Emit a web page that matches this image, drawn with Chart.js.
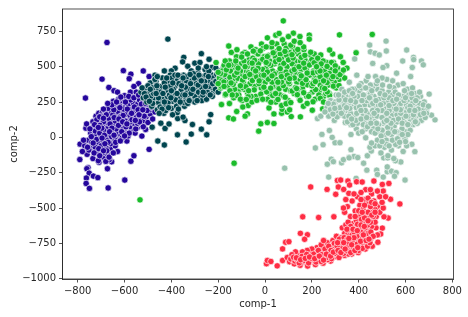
<!DOCTYPE html>
<html>
<head>
<meta charset="utf-8">
<style>html,body{margin:0;padding:0;background:#fff}canvas{display:block}</style>
<script src="https://cdn.jsdelivr.net/npm/chart.js@4/dist/chart.umd.min.js"></script>
</head>
<body>
<canvas id="c" width="468" height="317"></canvas>
<script>
const xTicks = [-800,-600,-400,-200,0,200,400,600,800];
const yTicks = [-1000,-750,-500,-250,0,250,500,750];

// values, [comp-1, comp-2]
const purplePts = [
[-675,671],[-605,472],[-573,447],[-580,415],[-696,412],[-520,470],[-495,430],[-667,353],[-767,278],[-645,330],[-630,320],[-540,380],[-560,360],
[-791,-157],[-756,-215],[-761,-222],[-673,-222],[-751,-253],[-733,-274],[-714,-285],[-763,-288],[-764,-326],[-750,-361],[-670,-358],[-599,-302],[-573,-169],[-709,-176],[-655,-173],[-665,-158],[-560,-130],[-495,-85],[-510,56],[-526,9],[-590,-26],[-630,-100],[-790,-48],
[-770,-60],[-755,-20],[-745,-75],[-760,-120],[-735,-150],[-720,-110],[-745,30],[-765,65],[-762,95],[-735,70],[-728,20],[-712,-40],[-700,-90],[-690,-140],[-680,-170],[-672,-120],[-660,-80],[-652,-30],[-640,-60],[-625,-10],
[-735,110],[-722,150],[-715,95],[-708,55],[-700,5],[-692,-25],[-682,35],[-675,-15],[-665,20],[-650,45],[-632,30],[-615,15],[-600,40],[-585,10],[-570,50],[-555,30],[-545,70],[-530,95],
[-710,170],[-700,120],[-695,175],[-688,80],[-680,140],[-672,100],[-665,65],[-660,170],[-652,125],[-645,85],[-640,205],[-635,150],[-628,110],[-622,70],[-615,180],[-610,130],[-605,90],[-598,215],[-592,165],[-585,120],[-578,75],[-572,195],[-566,145],[-560,100],[-552,60],[-548,170],[-540,130],[-534,210],[-525,165],[-518,120],[-508,145],[-500,105],[-490,165],[-480,130],
[-700,150],[-690,110],[-682,185],[-675,60],[-668,135],[-658,215],[-650,160],[-642,240],[-636,60],[-630,185],[-622,235],[-618,145],[-610,260],[-604,200],[-596,115],[-590,275],[-584,235],[-576,155],[-570,290],[-563,245],[-556,190],[-550,290],[-544,235],[-536,265],[-530,180],[-522,250],[-515,205],[-508,280],[-500,230],[-492,195],[-486,260],
[-725,45],[-690,50],[-655,5],[-640,115],[-605,60],[-575,110],[-545,100],[-520,75],[-705,85],[-670,205],[-648,255],[-625,270],[-600,295],[-575,320],[-550,320],[-530,310],[-510,320],[-660,-45],[-680,-70],[-700,-60],[-720,-15],[-740,-35],[-725,-70],[-712,-165],[-640,-20],[-610,-5],
[-718,125],[-706,30],[-697,65],[-686,15],[-678,160],[-670,-35],[-662,95],[-654,65],[-646,195],[-638,-35],[-626,85],[-620,210],[-612,40],[-606,155],[-594,75],[-588,200],[-580,30],[-574,265],[-568,125],[-558,215],[-550,140],[-542,195],[-536,110],[-528,235],[-516,150],[-504,190],[-498,265],[-694,-110],[-684,-45],[-676,-95],[-666,-140],[-648,-110],[-734,-40],[-752,-90],[-748,60],[-730,-110],[-710,-80],[-696,-5],[-654,230],[-634,250],[-616,285],[-596,250],[-582,290],[-560,280],[-540,300],[-480,210],[-470,180],[-690,200],[-672,240],[-706,145],
[-742,5],[-728,90],[-712,70],[-690,135],[-664,40],[-644,140],[-624,130],[-608,110],[-590,95],[-570,170],[-554,120],[-538,160],[-522,195],[-510,240],[-645,15],[-618,-25],[-600,10],[-690,-95],[-706,-130],[-758,-70],[-775,-20],[-780,-100]
];
const tealPts = [
[-415,695],[-272,592],[-347,566],[-239,552],[-352,534],[-330,503],[-300,525],[-278,530],[-384,489],[-458,-26],[-430,-54],[-337,-33],[-374,18],[-315,23],[-249,18],[-272,58],[-310,91],[-342,119],[-373,133],[-350,143],[-239,110],[-232,161],[-427,63],[-482,72],[-445,100],[-410,95],[-400,470],[-430,470],[-470,440],
[-530,320],[-520,280],[-512,350],[-505,250],[-498,310],[-490,385],[-484,220],[-478,275],[-472,340],[-466,395],[-460,195],[-455,245],[-450,300],[-444,360],[-438,420],[-432,170],[-428,225],[-422,280],[-416,330],[-410,390],[-405,440],[-400,205],[-396,255],[-390,305],[-385,360],[-380,410],[-375,175],[-370,235],[-364,285],[-358,335],[-354,390],[-348,440],[-344,220],[-338,270],[-332,320],[-326,370],[-320,425],[-315,470],[-310,260],[-305,305],[-298,350],[-292,405],[-286,455],[-280,280],[-275,330],[-268,375],[-262,430],[-256,480],[-250,300],[-244,345],[-238,395],[-232,445],[-226,495],[-220,320],[-214,370],[-208,415],[-202,465],[-196,345],[-190,395],[-184,440],[-178,490],
[-515,310],[-500,365],[-488,290],[-480,240],[-470,410],[-458,330],[-448,215],[-440,270],[-430,385],[-424,190],[-414,245],[-408,300],[-398,420],[-392,340],[-382,265],[-378,220],[-368,380],[-360,430],[-352,300],[-346,245],[-336,400],[-328,290],[-322,345],[-312,400],[-306,450],[-300,290],[-294,380],[-284,320],[-278,410],[-270,350],[-258,395],[-252,440],[-246,320],[-240,470],[-228,355],[-222,420],[-212,340],[-206,445],[-198,400],[-192,470],[-455,280],[-440,200],[-420,420],[-395,160],[-370,200],[-330,240],[-300,250],[-270,260],[-250,270],[-225,290],[-480,350],[-460,430],[-445,320],[-405,360],[-385,440],[-340,355],[-316,310],[-286,370],[-266,300],[-240,360],[-216,395],
[-525,350],[-508,285],[-494,255],[-476,310],[-462,365],[-452,170],[-436,310],[-426,355],[-412,210],[-402,280],[-394,385],[-376,310],[-372,440],[-362,250],[-356,365],[-342,300],[-334,430],[-324,260],[-318,380],[-308,340],[-302,420],[-290,260],[-282,440],[-272,400],[-264,320],[-254,360],[-242,430],[-234,300],[-224,380],[-210,395],[-200,320],[-194,440],[-182,370],[-176,420],[-168,460],[-160,390],[-210,490],[-250,500],[-285,490],[-320,445],[-350,420],[-400,330],[-430,250],[-465,310],[-490,340]
];
const greenPts = [
[78,824],[318,725],[458,728],[389,598],[289,590],[276,618],[238,583],[-27,44],[-18,96],[10,105],[38,98],[151,145],[112,147],[-121,183],[-132,-183],[-534,-442],[-155,646],[-144,601],[-209,529],[-186,232],[-152,239],[-155,138],[-135,130],[46,723],[60,735],[10,704],[121,737],[100,713],[149,713],[189,723],[189,695],[164,220],[202,192],[246,201],[71,171],[73,198],[71,225],[38,166],[-75,166],[-85,150],[-72,225],[-95,215],[17,208],[95,180],[105,195],[-60,640],[-40,620],[-15,660],
[-195,420],[-190,350],[-182,470],[-175,510],[-170,300],[-165,390],[-158,440],[-152,540],[-146,330],[-140,490],[-134,280],[-128,400],[-122,570],[-116,450],[-110,340],[-104,520],[-98,260],[-92,390],[-86,600],[-80,470],[-74,310],[-68,550],[-62,420],[-56,250],[-50,500],[-44,360],[-38,600],[-32,450],[-26,290],[-20,540],[-14,400],[-8,630],[-2,330],[4,490],[10,270],[16,580],[22,430],[28,640],[34,360],[40,520],[46,250],[52,610],[58,460],[64,300],[70,560],[76,400],[82,660],[88,340],[94,500],[100,260],[106,600],[112,440],[118,640],[124,310],[130,540],[136,390],[142,590],[148,270],[154,480],[160,350],[166,620],[172,430],[178,290],[184,530],[190,380],[196,580],[202,320],[208,470],[214,270],[220,540],[226,400],[232,330],[238,500],[244,440],[250,290],[256,370],[262,530],[268,420],[274,310],[280,480],[286,380],[292,530],[298,440],[304,350],[310,490],[316,410],[322,570],[328,460],[334,530],[340,420],[350,490],
[-185,400],[-172,445],[-160,360],[-148,470],[-136,410],[-124,510],[-112,300],[-100,440],[-88,340],[-76,500],[-64,380],[-52,560],[-40,290],[-28,520],[-16,350],[-4,570],[8,420],[20,310],[32,470],[44,570],[56,350],[68,510],[80,290],[92,580],[104,380],[116,520],[128,460],[140,340],[152,540],[164,390],[176,480],[188,300],[200,550],[212,420],[224,480],[236,370],[248,540],[260,310],[272,450],[284,530],[296,390],[308,430],[-130,340],[-90,540],[-50,440],[-10,480],[30,390],[70,450],[110,330],[150,410],[190,440],[230,300],[270,370],[-170,540],[-60,290],[20,540],[90,420],[130,610],[170,550],[210,590],[-30,590],[50,660],[90,630],[-120,620],[-95,590],
[-168,305],[-122,298],[-72,288],[-18,306],[33,296],[86,284],[138,302],[186,290],[236,276],[276,296],[-150,330],[-96,352],[-46,336],[7,322],[60,344],[116,328],[165,316],[216,338],[266,322],[-188,362],[-136,375],[-82,358],[-26,380],[24,348],[78,366],[130,352],[181,372],[245,350],[292,362],[-176,392],[-116,418],[-54,402],[1,388],[50,408],[101,392],[160,382],[211,404],[265,388],[316,366],[-150,424],[-96,405],[-36,428],[14,412],[70,392],[125,420],[175,408],[235,430],[285,416],[-190,452],[-130,440],[-70,456],[-15,438],[40,448],[90,462],[150,444],[205,456],[255,470],[320,444],[-165,478],[-105,470],[-50,482],[10,462],[65,486],[115,470],[170,492],[225,464],[275,452],[335,476],[-145,512],[-85,500],[-30,488],[25,510],[80,524],[135,498],[190,512],[240,520],[300,506],[-125,540],[-65,528],[-10,552],[45,536],[100,548],[155,566],[210,528],[265,502],
[-100,568],[-45,545],[10,572],[65,590],[120,562],[170,580],[225,560],[-75,590],[-20,612],[35,598],[85,608],[140,622],[195,602],[-50,610],[5,640],[60,628],[110,652],[165,640],[30,670],[75,690],[125,680],[150,670],[-105,270],[-35,262],[25,248],[90,238],[150,262],[205,252],[250,250],[-140,300],[-80,268],[-10,270],[55,268],[110,246],[180,240],[280,260],[310,300],[-200,460],[-200,380],[-175,360],[-70,330],[-5,355],[45,310],[135,345],[200,365],[250,400],[300,470],[-120,460],[-40,470],[15,520],[70,430],[125,480],[180,455],[235,470],[290,430],[-85,430],[-25,400],[30,435],[95,440],[145,500],[205,380],[255,345],[-145,385],[-105,365],[-65,445],[-5,440],[55,390],[105,415],[155,435],[215,395],[262,440],[-55,525],[5,530],[60,550],[115,585],[165,525],[220,500],[-115,490],[-155,510]
];
const sagePts = [
[447,653],[517,681],[518,611],[605,618],[450,605],[470,595],[488,583],[634,566],[668,540],[676,513],[588,540],[635,550],[383,555],[460,523],[520,507],[504,494],[629,494],[622,430],[562,454],[726,124],[711,157],[701,306],[690,200],[215,-75],[248,-52],[299,-38],[320,-38],[287,0],[243,21],[275,49],[343,105],[367,90],[390,60],[367,20],[367,-87],[283,-155],[359,-140],[380,-135],[396,-143],[437,-130],[454,-96],[448,-70],[640,-101],[627,-49],[430,-3],[84,-218],[266,-190],[292,-172],[327,-180],[335,-158],[359,-145],[272,-281],[389,-290],[435,-232],[421,-183],[477,-232],[480,-262],[505,-281],[522,-243],[540,-239],[560,-250],[553,-275],[522,-209],[598,-302],[580,-174],[557,-165],[507,-145],[524,-145],[224,133],[238,150],
[265,210],[272,150],[280,260],[288,185],[296,120],[304,300],[312,215],[320,160],[328,340],[336,250],[344,190],[352,110],[360,390],[368,290],[376,220],[384,150],[392,440],[400,330],[408,260],[416,190],[424,110],[432,400],[440,300],[448,230],[456,150],[464,60],[472,430],[480,340],[488,270],[496,190],[504,100],[512,20],[520,410],[528,320],[536,240],[544,160],[552,80],[560,-20],[568,370],[576,280],[584,200],[592,120],[600,40],[608,340],[616,260],[624,170],[632,90],[640,310],[648,220],[656,140],[664,290],[672,190],[680,250],[690,170],[570,-60],[540,-90],[510,-70],[480,-20],[455,40],[430,60],
[300,250],[325,220],[345,290],[365,170],[385,340],[395,100],[410,380],[425,230],[445,130],[460,360],[470,210],[485,90],[500,330],[515,150],[525,250],[535,60],[550,350],[555,190],[565,110],[575,10],[590,290],[605,180],[615,80],[630,240],[645,150],[660,240],[340,150],[355,230],[375,90],[390,210],[405,320],[420,160],[435,260],[450,370],[465,290],[478,150],[490,40],[505,240],[518,-20],[532,130],[545,300],[558,-50],[572,220],[585,60],[598,-10],[612,300],[620,130],[636,200],[650,280],[668,120],[400,30],[470,-60],[495,-110],[525,-130],[550,-150],[590,-100],[605,-60],[440,430],[500,420],[545,400],[590,380],[630,350],[330,290],[310,180],[285,220],
[278,195],[292,235],[308,145],[316,265],[332,190],[340,320],[350,255],[358,150],[372,340],[380,255],[388,120],[396,290],[404,215],[412,350],[420,90],[428,290],[436,170],[444,340],[452,270],[460,190],[468,110],[476,380],[484,230],[492,310],[500,140],[508,280],[516,200],[524,70],[532,360],[540,210],[548,120],[556,320],[564,160],[572,30],[580,240],[588,130],[596,330],[604,230],[612,150],[620,50],[628,280],[636,130],[644,260],[652,180],[660,320],[676,230],[684,140],[698,220],[500,50],[540,20],[470,30],[440,90],[415,40],[520,-50],[560,40],[600,-30],[490,-60],[380,290],[430,350],[480,400],[530,280],[570,300],[610,210],[360,330],[320,210],[450,310],[500,190],[550,240],[600,100],[410,130],[460,240],[510,110],[420,300],[370,130],[340,225],[290,165],[256,180],[480,190],[530,190],[580,170],[620,220],[650,100],
[270,240],[298,205],[314,300],[326,170],[344,265],[362,205],[374,310],[392,170],[402,365],[414,260],[428,190],[438,75],[446,280],[456,330],[466,170],[474,260],[482,60],[494,230],[502,370],[512,300],[520,170],[530,225],[538,100],[546,260],[554,40],[562,270],[570,130],[578,195],[586,100],[594,260],[602,150],[610,20],[618,190],[626,310],[634,160],[642,110],[654,200],[664,160],[678,170],[496,10],[526,30],[544,-20],[566,-10],[586,20],[610,90],[476,100],[452,100],[434,140],[410,190],[386,250],[366,260],[348,210],[520,120],[560,200],[600,280],[640,190],[500,-30],[530,-60],[575,-35],[455,-40]
];
const redPts = [
[6,-894],[10,-871],[25,-878],[52,-909],[75,-871],[75,-789],[88,-742],[102,-738],[151,-679],[181,-689],[169,-721],[161,-562],[229,-567],[294,-562],[195,-351],[265,-368],[302,-403],[309,-305],[323,-302],[313,-351],[336,-368],[354,-309],[361,-337],[358,-396],[391,-314],[415,-316],[465,-309],[501,-333],[529,-326],[576,-471],[536,-438],[526,-571],[508,-562],[501,-642],[494,-684],[482,-742],
[95,-850],[105,-880],[118,-865],[125,-895],[132,-840],[142,-875],[150,-905],[155,-820],[165,-855],[175,-885],[182,-910],[188,-800],[195,-840],[205,-870],[215,-900],[222,-780],[230,-825],[238,-860],[248,-890],[255,-755],[262,-800],[270,-840],[280,-875],[290,-770],[298,-815],[306,-845],[315,-740],[322,-785],[330,-830],[340,-835],[345,-700],[352,-755],[360,-800],[370,-825],[376,-670],[382,-725],[390,-770],[398,-815],[405,-640],[412,-695],[420,-745],[428,-790],[436,-610],[442,-665],[450,-720],[458,-770],[466,-590],[474,-640],[480,-690],
[110,-860],[128,-875],[140,-850],[148,-830],[160,-880],[170,-840],[180,-860],[192,-875],[200,-820],[210,-845],[220,-865],[235,-800],[245,-850],[258,-830],[268,-865],[278,-780],[288,-830],[300,-795],[310,-830],[320,-760],[332,-805],[345,-775],[356,-825],[368,-720],[378,-780],[388,-740],[400,-800],[410,-760],[422,-710],[435,-750],[445,-690],[330,-640],[345,-620],[360,-650],[375,-610],[390,-590],[405,-560],[420,-600],[430,-540],[445,-570],[460,-530],[475,-560],[340,-680],[355,-600],[385,-640],[400,-680],[415,-640],[435,-680],[455,-630],[470,-600],
[340,-530],[352,-490],[365,-560],[372,-450],[385,-520],[395,-420],[405,-480],[418,-510],[428,-440],[440,-470],[455,-400],[465,-450],[480,-490],[490,-420],[505,-380],[515,-420],[490,-530],[470,-510],[450,-490],[430,-370],[410,-390],[380,-400],[345,-440],[335,-500],[505,-500],[440,-530],[480,-380],[450,-370],[500,-460],
[240,-760],[265,-745],[290,-730],[305,-700],[325,-710],[355,-680],[250,-730],[215,-810],[200,-790],[180,-800],[160,-810],[130,-810],[115,-830],
[122,-848],[136,-862],[146,-888],[158,-842],[168,-870],[178,-828],[186,-888],[198,-856],[208,-826],[218,-882],[226,-846],[240,-878],[252,-820],[264,-850],[274,-810],[284,-858],[294,-790],[304,-822],[316,-850],[326,-775],[336,-820],[348,-800],[358,-760],[366,-815],[374,-745],[384,-800],[394,-755],[404,-720],[416,-785],[426,-725],[438,-770],[448,-745],[228,-800],[242,-830],[256,-790],[272,-770],[282,-800],[296,-750],[308,-770],[318,-720],[328,-745],[338,-710],[350,-725],[362,-695],[372,-690],[392,-700],[402,-650],[418,-670],[428,-640],[452,-670],[462,-700],[366,-630],[350,-650],[380,-670],[395,-615],[412,-580],[425,-570],[438,-620],[450,-600],[462,-560],[440,-430],[455,-460],[470,-470],[425,-480],[410,-440],
[134,-852],[152,-866],[172,-856],[190,-846],[212,-858],[232,-840],[250,-868],[262,-826],[280,-840],[292,-812],[312,-800],[324,-815],[342,-790],[354,-740],[370,-760],[380,-710],[396,-780],[408,-735],[420,-690],[432,-730],[444,-720],[310,-745],[336,-745],[358,-715],[376,-650],[394,-660],[410,-620],[424,-630],[440,-590],[456,-550],[470,-530],[400,-520],[415,-530],[385,-560]
];

const groups = [
  { pts: purplePts, color: '#25069c', order: 5 },
  { pts: tealPts, color: '#00454f', order: 4 },
  { pts: greenPts, color: '#1bbc2b', order: 3 },
  { pts: sagePts, color: '#98c2ae', order: 2 },
  { pts: redPts, color: '#ff2d44', order: 1 },
];

const fmtMinus = v => String(v).replace('-', '\u2212');
const ink = '#262626';
const spines = {
  id: 'spines',
  afterDatasetsDraw(chart) {
    const { ctx, chartArea: a } = chart;
    ctx.save();
    ctx.strokeStyle = ink;
    ctx.lineWidth = 0.8;
    ctx.strokeRect(a.left, a.top, a.right - a.left, a.bottom - a.top);
    ctx.restore();
  }
};

new Chart(document.getElementById('c'), {
  type: 'scatter',
  data: {
    datasets: groups.map(g => ({
      data: g.pts.map(([x, y]) => ({ x, y })),
      order: g.order,
      backgroundColor: g.color,
      borderColor: 'rgba(255,255,255,0.85)',
      borderWidth: 0.75,
      pointRadius: 3.2,
    }))
  },
  options: {
    responsive: false,
    animation: false,
    layout: { padding: { top: 7, right: 14.5, left: 8, bottom: 7 } },
    plugins: { legend: { display: false }, tooltip: { enabled: false } },
    scales: {
      x: {
        type: 'linear', min: -865, max: 805,
        afterBuildTicks: s => { s.ticks = xTicks.map(value => ({ value })); },
        afterFit: s => { s.height = 31; },
        grid: { drawOnChartArea: false, tickLength: 3.5, tickColor: ink, tickWidth: 0.8 },
        border: { color: ink, width: 0.8 },
        ticks: { color: ink, font: { family: 'DejaVu Sans', size: 10 }, padding: 3, maxRotation: 0, callback: fmtMinus },
        title: { display: true, text: 'comp-1', color: ink, font: { family: 'DejaVu Sans', size: 10 }, padding: { top: 3, bottom: 0 } }
      },
      y: {
        type: 'linear', min: -1002, max: 908,
        afterBuildTicks: s => { s.ticks = yTicks.map(value => ({ value })); },
        afterFit: s => { s.width = 54.5; },
        grid: { drawOnChartArea: false, tickLength: 3.5, tickColor: ink, tickWidth: 0.8 },
        border: { color: ink, width: 0.8 },
        ticks: { color: ink, font: { family: 'DejaVu Sans', size: 10 }, padding: 3, callback: fmtMinus },
        title: { display: true, text: 'comp-2', color: ink, font: { family: 'DejaVu Sans', size: 10 }, padding: { top: 0, bottom: 3 } }
      }
    }
  },
  plugins: [spines]
});
</script>
</body>
</html>
